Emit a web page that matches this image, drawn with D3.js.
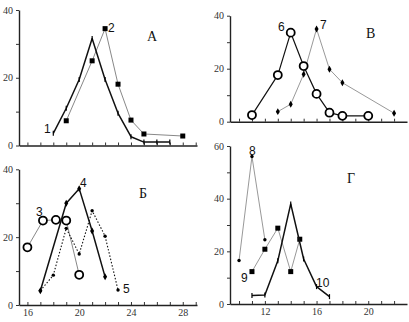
<!DOCTYPE html>
<html>
<head>
<meta charset="utf-8">
<script src="https://cdn.jsdelivr.net/npm/d3@7"></script>
<style>
  body { margin: 0; background: #fff; }
</style>
</head>
<body>
<div id="canva"></div>
<script>
// panel A
const xA1 = [18, 19, 20, 21, 22, 23, 24, 25, 26, 27];
const yA1 = [3.6, 11, 19.5, 31.6, 19.5, 9.5, 2.6, 1, 1, 1];
const xA2 = [19, 21, 22, 23, 24, 25, 28];
const yA2 = [7.3, 25, 34.5, 18.1, 7.5, 3.4, 2.8];
// panel B
const xB6 = [11, 13, 14, 15, 16, 17, 18, 20];
const yB6 = [2.5, 17.6, 33.6, 21, 10.5, 3.4, 2.2, 2.2];
const xB7 = [13, 14, 15, 16, 17, 18, 22];
const yB7 = [3.8, 6.6, 17.9, 35, 19.8, 14.7, 3.2];
// panel Б
const xC3 = [16, 17.2, 18.2, 19, 20];
const yC3 = [17, 24.9, 25.1, 24.9, 8.9];
const xC4 = [17, 19, 20, 21, 22];
const yC4 = [4.2, 30, 34.3, 21.8, 8.3];
const xC5 = [17, 18, 19, 20, 21, 22, 23];
const yC5 = [4.2, 8.8, 22.6, 15, 27.8, 20.3, 4.4];
// panel Г
const xD8 = [10, 11, 12];
const yD8 = [16.5, 56, 24.4];
const xD9 = [11, 12, 13, 14, 14.7];
const yD9 = [12.3, 20.8, 28.8, 12.3, 24.6];
const xD10 = [11, 12, 13, 14, 15, 16, 17];
const yD10 = [3.2, 3.4, 16.4, 38, 17.1, 6.6, 2.8];

const xTicksLeft = d3.range(16, 30);
const xLabelsLeft = [16, 20, 24, 28];
const xTicksRight = d3.range(10, 23);
const xLabelsRight = [12, 16, 20];

const svg = d3.select("#canva").append("svg")
  .attr("width", 409).attr("height", 322);

const zip = (xs, ys) => xs.map((x, i) => ({ x: x, y: ys[i] }));

function panel(p) {
  const x = d3.scaleLinear().domain(p.xd).range([p.left, p.right]);
  const y = d3.scaleLinear().domain(p.yd).range([p.bottom, p.top]);
  const g = svg.append("g");

  const yAx = g.append("g")
    .attr("transform", `translate(${p.left},0)`)
    .call(d3.axisLeft(y).tickValues(p.yTicks).tickSize(3).tickSizeOuter(0)
      .tickPadding(3)
      .tickFormat(d => p.yLabels.includes(d) ? d : ""));
  const xAx = g.append("g")
    .attr("transform", `translate(0,${p.bottom})`)
    .call(d3.axisBottom(x).tickValues(p.xTicks).tickSize(-3).tickSizeOuter(0)
      .tickPadding(4)
      .tickFormat(d => p.xLabels.includes(d) ? d : ""));
  [yAx, xAx].forEach(a => {
    a.select(".domain").attr("stroke", "#222").attr("stroke-width", 1.4);
    a.selectAll(".tick line").attr("stroke", "#333");
    a.selectAll("text").attr("font-size", 10).attr("fill", "#333")
      .style("font-family", "'Liberation Serif', serif");
  });

  p.series.forEach(s => {
    const pts = zip(s.x, s.y);
    const line = d3.line().x(d => x(d.x)).y(d => y(d.y));
    g.append("path").datum(pts).attr("d", line)
      .attr("fill", "none").attr("stroke", s.color)
      .attr("stroke-width", s.width)
      .attr("stroke-linejoin", "round")
      .attr("stroke-dasharray", s.dash || null);

    const m = g.selectAll(null).data(pts).enter();
    if (s.marker === "square") {
      m.append("rect").attr("x", d => x(d.x) - 2.5).attr("y", d => y(d.y) - 2.5)
        .attr("width", 5).attr("height", 5).attr("fill", "#000");
    } else if (s.marker === "circle") {
      m.append("circle").attr("cx", d => x(d.x)).attr("cy", d => y(d.y))
        .attr("r", 4).attr("fill", "#fff").attr("stroke", "#000").attr("stroke-width", 1.8);
    } else if (s.marker === "dot") {
      m.append("circle").attr("cx", d => x(d.x)).attr("cy", d => y(d.y))
        .attr("r", 1.7).attr("fill", "#000");
    } else if (s.marker === "diamond") {
      m.append("path").attr("d", d3.symbol(d3.symbolDiamond, 14))
        .attr("transform", d => `translate(${x(d.x)},${y(d.y)})`).attr("fill", "#000");
    } else if (s.marker === "tick") {
      m.append("line").attr("x1", d => x(d.x)).attr("x2", d => x(d.x))
        .attr("y1", d => y(d.y) - 2.5).attr("y2", d => y(d.y) + 2.5)
        .attr("stroke", "#000").attr("stroke-width", 1.2);
    }
  });

  p.notes.forEach(n => {
    g.append("text").attr("x", n[1]).attr("y", n[2]).text(n[0])
      .style("font-family", "'Liberation Sans', Arial, sans-serif")
      .attr("font-size", 12).attr("fill", "#111");
  });
  g.append("text").attr("x", p.title[1]).attr("y", p.title[2]).text(p.title[0])
    .style("font-family", "'Liberation Serif', serif")
    .attr("font-size", 14).attr("fill", "#111");
}

panel({
  left: 19, right: 197, top: 10, bottom: 145.5, xd: [15.35, 29.1], yd: [0, 40],
  yTicks: [0, 10, 20, 30, 40], yLabels: [0, 20, 40], xTicks: xTicksLeft, xLabels: [],
  series: [
    { x: xA2, y: yA2, color: "#888", width: 1, marker: "square" },
    { x: xA1, y: yA1, color: "#111", width: 1.5, marker: "tick" }
  ],
  notes: [["1", 44, 133], ["2", 108, 32]], title: ["A", 147, 41]
});

panel({
  left: 230, right: 407, top: 15.7, bottom: 121.7, xd: [9.3, 23], yd: [0, 40],
  yTicks: [0, 10, 20, 30, 40], yLabels: [0, 20, 40], xTicks: xTicksRight, xLabels: [],
  series: [
    { x: xB7, y: yB7, color: "#999", width: 1, marker: "diamond" },
    { x: xB6, y: yB6, color: "#111", width: 1.2, marker: "circle" }
  ],
  notes: [["6", 278, 31], ["7", 320, 29]], title: ["B", 366, 38]
});

panel({
  left: 19, right: 197, top: 169.3, bottom: 305, xd: [15.35, 29.1], yd: [0, 40],
  yTicks: [0, 10, 20, 30, 40], yLabels: [0, 20, 40], xTicks: xTicksLeft, xLabels: xLabelsLeft,
  series: [
    { x: xC3, y: yC3, color: "#888", width: 1, marker: "circle" },
    { x: xC5, y: yC5, color: "#111", width: 1.1, marker: "dot", dash: "1.5,1.8" },
    { x: xC4, y: yC4, color: "#111", width: 1.5, marker: "diamond" }
  ],
  notes: [["3", 36, 216], ["4", 80, 187], ["5", 123, 293]], title: ["Б", 139, 198]
});

panel({
  left: 230, right: 407, top: 146, bottom: 304, xd: [9.3, 23], yd: [0, 60],
  yTicks: [0, 10, 20, 30, 40, 50, 60], yLabels: [0, 20, 40, 60], xTicks: xTicksRight, xLabels: xLabelsRight,
  series: [
    { x: xD8, y: yD8, color: "#999", width: 1, marker: "dot" },
    { x: xD9, y: yD9, color: "#999", width: 1, marker: "square" },
    { x: xD10, y: yD10, color: "#111", width: 1.5, marker: "tick" }
  ],
  notes: [["8", 249, 155], ["9", 241, 282], ["10", 316, 287]], title: ["Г", 347, 183]
});
</script>
</body>
</html>
